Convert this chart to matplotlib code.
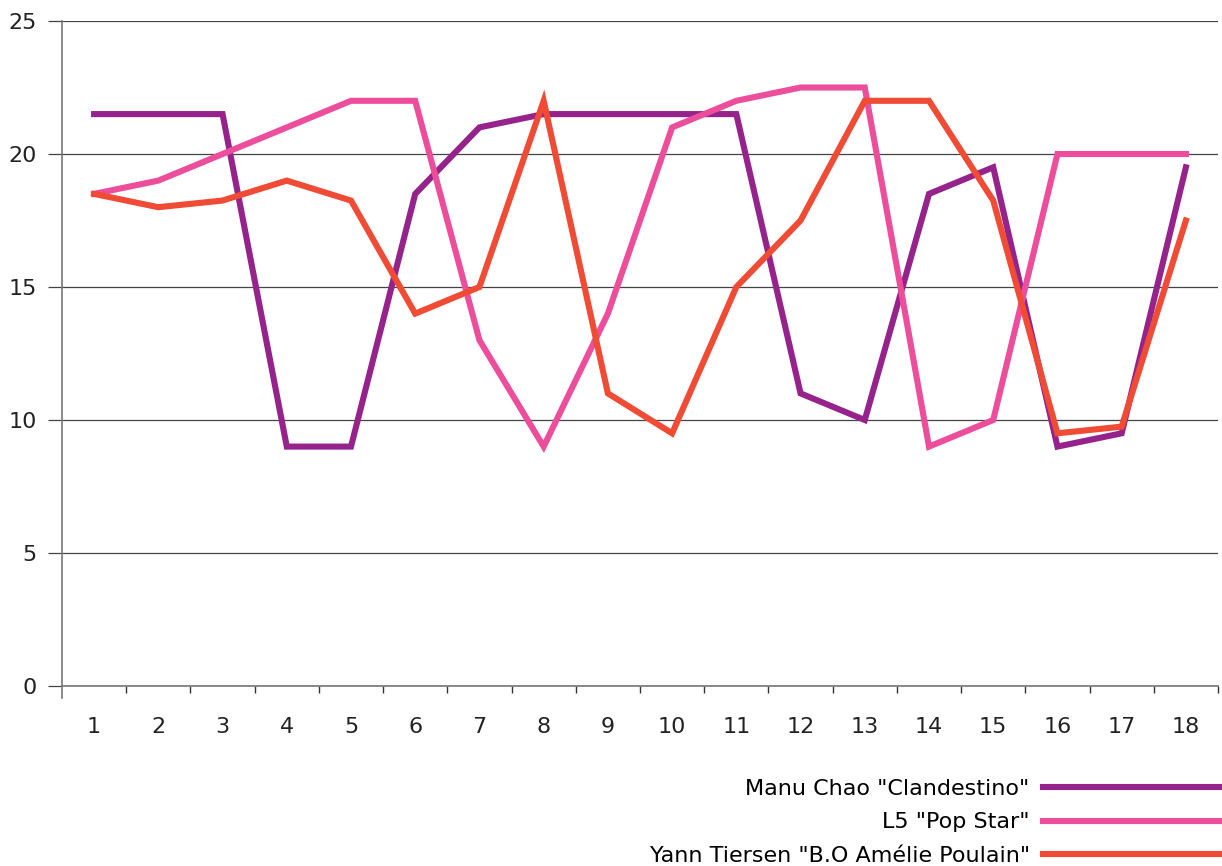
import matplotlib
matplotlib.use("Agg")
import matplotlib.pyplot as plt
from matplotlib.lines import Line2D

plt.rcParams['font.family'] = ['DejaVu Sans']

weeks = list(range(1, 19))
manu_chao = [21.5, 21.5, 21.5, 9, 9, 18.5, 21, 21.5, 21.5, 21.5, 21.5, 11, 10, 18.5, 19.5, 9, 9.5, 19.5]
l5 = [18.5, 19, 20, 21, 22, 22, 13, 9, 14, 21, 22, 22.5, 22.5, 9, 10, 20, 20, 20]
tiersen = [18.5, 18, 18.25, 19, 18.25, 14, 15, 22, 11, 9.5, 15, 17.5, 22, 22, 18.25, 9.5, 9.75, 17.5]

labels = ['Manu Chao "Clandestino"', 'L5 "Pop Star"', 'Yann Tiersen "B.O Amélie Poulain"']
colors = ['#96238C', '#ED4E9B', '#EF4B35']

fig = plt.figure(figsize=(12.22, 8.66), dpi=100)
ax = fig.add_axes([62/1222, 1-686/866, (1218-62)/1222, (686-21)/866])

for vals, lab, col in zip([manu_chao, l5, tiersen], labels, colors):
    ax.plot(weeks, vals, color=col, lw=4.4, label=lab, solid_joinstyle='miter', clip_on=False)

ax.set_xlim(0.5, 18.5)
ax.set_ylim(0, 25)
ax.set_yticks([0, 5, 10, 15, 20, 25])
ax.set_xticks(weeks)
ax.set_xticks([i + 0.5 for i in range(1, 19)], minor=True)
ax.yaxis.grid(True, color='#444444', lw=0.9)
ax.set_axisbelow(True)

for s in ['top', 'right']:
    ax.spines[s].set_visible(False)
for s in ['left', 'bottom']:
    ax.spines[s].set_color('#777777')
    ax.spines[s].set_linewidth(1.2)

ax.tick_params(axis='x', which='major', length=0, labelsize=16, pad=22, colors='#222222')
ax.tick_params(axis='x', which='minor', length=5, width=1, color='#333333')
ax.tick_params(axis='y', length=10, width=0.9, color='#444444', labelsize=16, pad=8, labelcolor='#222222')

# left spine runs a bit below the x axis
ax.add_line(Line2D([0, 0], [0, -0.018], transform=ax.transAxes, color='#777777', lw=1.2, clip_on=False))

handles = [Line2D([], [], color=c, lw=4.4) for c in colors]
fig.legend(handles, labels, loc='upper right', bbox_to_anchor=(0.999, 0.1005),
           frameon=False, markerfirst=False, fontsize=16, handlelength=8.0,
           handletextpad=0.6, labelspacing=0.6, borderpad=0, borderaxespad=0)

fig.savefig('out.png', dpi=100)
